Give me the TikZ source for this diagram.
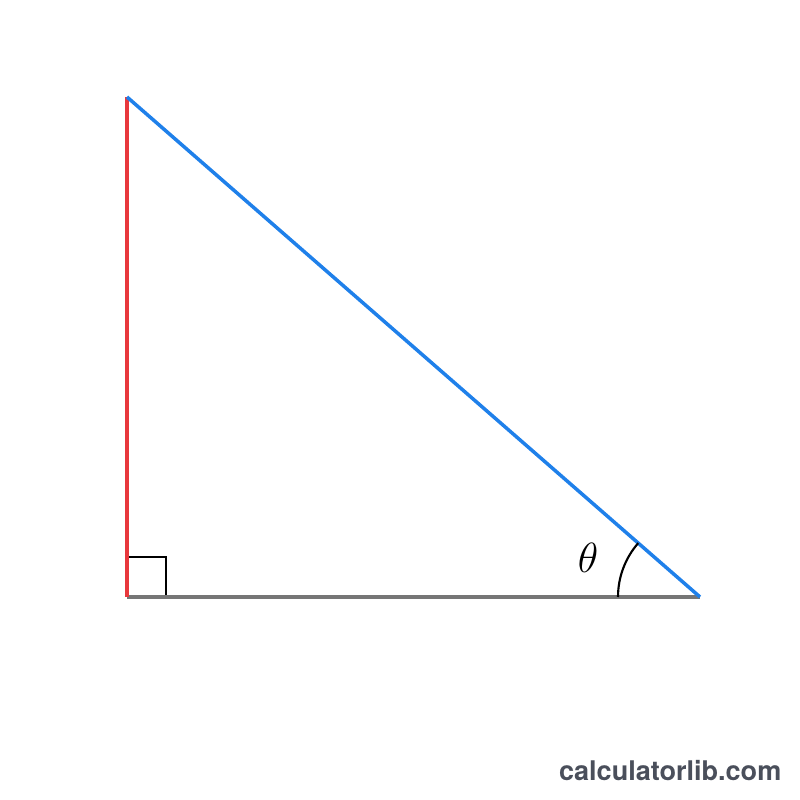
\documentclass[tikz,border=0pt]{standalone}
\usepackage{fontspec}
\usepackage{amsmath}
\newfontfamily\sitefont{TeX Gyre Heros}
\definecolor{oppred}{HTML}{E8383D}
\definecolor{hypblue}{HTML}{1F80EA}
\definecolor{adjgray}{HTML}{767676}
\definecolor{sitegray}{HTML}{4A4F5B}

\begin{document}
\begin{tikzpicture}[x=1cm,y=1cm]
    \useasboundingbox (0,0) rectangle (8,8);
    \coordinate (top) at (1.27,7.03);
    \coordinate (corner) at (1.27,2.03);
    \coordinate (tip) at (7.00,2.03);
    \draw [line width=0.7pt] (corner) ++(0,0.4) -| ++(0.39,-0.4);
    \draw [adjgray,line width=1pt] (corner) -- (tip);
    \draw [oppred,line width=1pt] (corner) -- (top);
    \draw [hypblue,line width=1pt] (top) -- (tip);
    \draw [line width=0.6pt] (tip) ++(180:0.82) arc (180:138.9:0.82);
    \node [font=\large] (angle) at (5.88,2.42) {$\theta$};
    \node [anchor=base east,inner sep=0pt,text=sitegray,font=\sitefont\bfseries\fontsize{7.7}{9}\selectfont]
      (site) at (7.82,0.19) {calculatorlib.com};
  \end{tikzpicture}
\end{document}
